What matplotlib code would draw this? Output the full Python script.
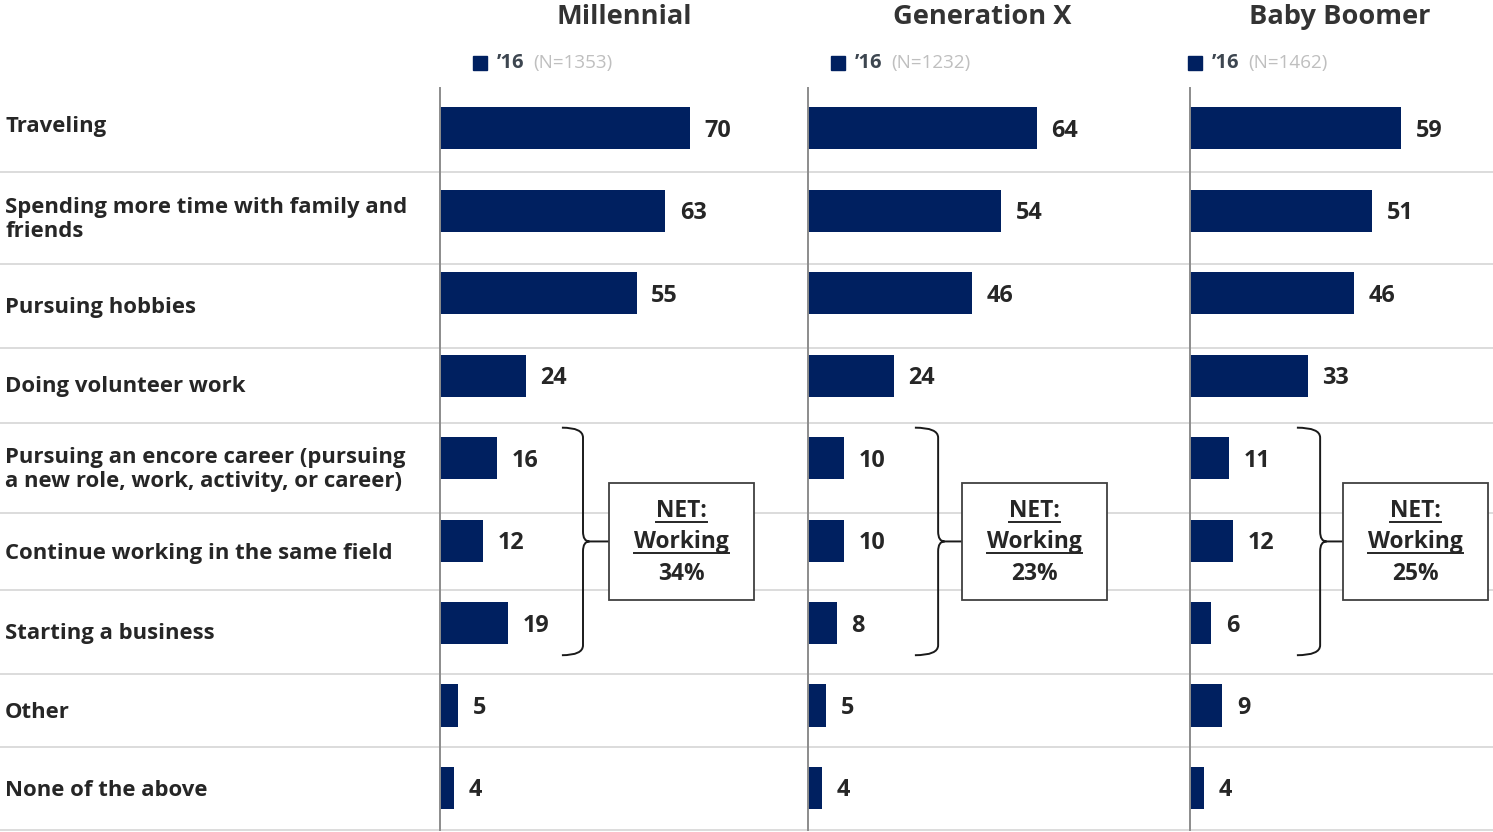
import numpy as np
import matplotlib.pyplot as plt
from matplotlib.path import Path
from matplotlib.patches import PathPatch, Rectangle
from matplotlib.transforms import blended_transform_factory

plt.rcParams['font.family'] = ['Open Sans', 'DejaVu Sans']

categories = [
    "Traveling",
    "Spending more time with family and\nfriends",
    "Pursuing hobbies",
    "Doing volunteer work",
    "Pursuing an encore career (pursuing\na new role, work, activity, or career)",
    "Continue working in the same field",
    "Starting a business",
    "Other",
    "None of the above",
]
groups = ["Millennial", "Generation X", "Baby Boomer"]
sample_sizes = [1353, 1232, 1462]
millennial = [70, 63, 55, 24, 16, 12, 19, 5, 4]
gen_x = [64, 54, 46, 24, 10, 10, 8, 5, 4]
boomer = [59, 51, 46, 33, 11, 12, 6, 9, 4]
net_working = [34, 23, 25]
series = [millennial, gen_x, boomer]

NAVY = '#002060'
DARK = '#262626'
SEP = '#d9d9d9'

W, H = 1493, 832
fig = plt.figure(figsize=(W / 100, H / 100), dpi=100)

# panel layout in pixels
top_px, bot_px = 88, 830
panel_left = [440, 808, 1190]
panel_right = [808, 1190, 1493]
px_per_unit = 3.575

# row separators (category units) and label row tops
seps = [0.52, 1.63, 2.65, 3.56, 4.66, 5.59, 6.61, 7.49, 8.5]
row_bounds = [-0.62] + seps

def fig_rect(x0, x1):
    return [x0 / W, 1 - bot_px / H, (x1 - x0) / W, (bot_px - top_px) / H]

n = len(categories)
ypos = np.arange(n)

# label column
lab = fig.add_axes(fig_rect(0, 440))
lab.set_xlim(0, 1)
lab.set_ylim(n - 0.5, -0.5)
lab.axis('off')
for i, c in enumerate(categories):
    yc = (row_bounds[i] + row_bounds[i + 1]) / 2 + 0.02
    lab.text(5 / 440, yc, c, ha='left', va='center', fontsize=15.9,
             fontweight='bold', color=DARK, linespacing=1.17, clip_on=False)
for s in seps:
    lab.axhline(s, color=SEP, lw=1.3, clip_on=False)

# per panel layout (value units)
legend_x = [11.2, 8.4, 1.4]
brace_hook = [34.1, 29.9, 29.9]
brace_vert = [40.0, 36.4, 36.4]
box_x = [47.3, 43.1, 42.8]
box_w = 40.5

def draw_brace(ax, xh, xv, xt, yt, ym, yb, r=0.12, dx=1.8):
    verts = [(xh, yt), (xv, yt), (xv, yt + r),
             (xv, ym - r), (xv, ym), (xv + dx, ym),
             (xt, ym),
             (xv + dx, ym), (xv, ym), (xv, ym + r),
             (xv, yb - r), (xv, yb), (xh, yb)]
    codes = [Path.MOVETO, Path.CURVE3, Path.CURVE3,
             Path.LINETO, Path.CURVE3, Path.CURVE3,
             Path.LINETO,
             Path.MOVETO, Path.CURVE3, Path.CURVE3,
             Path.LINETO, Path.CURVE3, Path.CURVE3]
    ax.add_patch(PathPatch(Path(verts, codes), fc='none', ec='#1a1a1a',
                           lw=1.4, clip_on=False))

underline_texts = []
for k, (name, vals) in enumerate(zip(groups, series)):
    x0, x1 = panel_left[k], panel_right[k]
    ax = fig.add_axes(fig_rect(x0, x1))
    ax.set_xlim(0, (x1 - x0) / px_per_unit)
    ax.set_ylim(n - 0.5, -0.5)
    ax.patch.set_alpha(0)
    for sp in ['top', 'right', 'bottom']:
        ax.spines[sp].set_visible(False)
    ax.spines['left'].set_color('#8c8c8c')
    ax.spines['left'].set_linewidth(1.4)
    ax.set_xticks([])
    ax.set_yticks([])
    for s in seps:
        ax.axhline(s, color=SEP, lw=1.3, clip_on=False, zorder=0)

    ax.barh(ypos - 0.01, vals, height=0.51, color=NAVY, zorder=2)
    for y, v in zip(ypos, vals):
        ax.annotate(str(v), (v, y + 0.02), xytext=(10.5, 0),
                    textcoords='offset points', ha='left', va='center',
                    fontsize=16.8, fontweight='bold', color=DARK)

    # header and legend
    tr = blended_transform_factory(ax.transData, fig.transFigure)
    hdr_x = [51.5, 48.7, 42.0][k]
    ax.text(hdr_x, 1 - 17 / H, name, transform=tr, ha='center', va='center',
            fontsize=19.6, fontweight='bold', color='#333333')
    ly = 1 - 63 / H
    ax.plot([legend_x[k]], [ly], marker='s', ms=10, color=NAVY,
            transform=tr, clip_on=False)
    ax.annotate("\u201916", (legend_x[k], ly), xycoords=tr, xytext=(12, 0),
                textcoords='offset points', ha='left', va='center',
                fontsize=14.5, fontweight='bold', color='#3d4650')
    ax.annotate(f"(N={sample_sizes[k]})", (legend_x[k], ly), xycoords=tr,
                xytext=(38, 0), textcoords='offset points', ha='left',
                va='center', fontsize=13.6, color='#bfbfbf')

    # bracket around the working rows with NET box
    draw_brace(ax, brace_hook[k], brace_vert[k], box_x[k], 4 - 0.38, 5, 6 + 0.38)
    ax.add_patch(Rectangle((box_x[k], 4.29), box_w, 1.42, fc='white',
                           ec='#404040', lw=1.3, zorder=3))
    bx = box_x[k] + box_w / 2
    t1 = ax.text(bx, 4.70, "NET:", ha='center', va='baseline', fontsize=16.4,
                 fontweight='bold', color=DARK, zorder=4)
    t2 = ax.text(bx, 5.08, "Working", ha='center', va='baseline', fontsize=16.4,
                 fontweight='bold', color=DARK, zorder=4)
    ax.text(bx, 5.47, f"{net_working[k]}%", ha='center', va='baseline',
            fontsize=16.4, fontweight='bold', color=DARK, zorder=4)
    underline_texts.append((ax, t1, 4.70))
    underline_texts.append((ax, t2, 5.08))

# underline the NET labels
fig.canvas.draw()
for ax, t, yb in underline_texts:
    bb = t.get_window_extent()
    inv = ax.transData.inverted()
    xa = inv.transform((bb.x0, 0))[0]
    xb = inv.transform((bb.x1, 0))[0]
    ax.plot([xa, xb], [yb + 0.065, yb + 0.065], color=DARK, lw=1.4, zorder=4)

fig.savefig('out.png', dpi=100)
